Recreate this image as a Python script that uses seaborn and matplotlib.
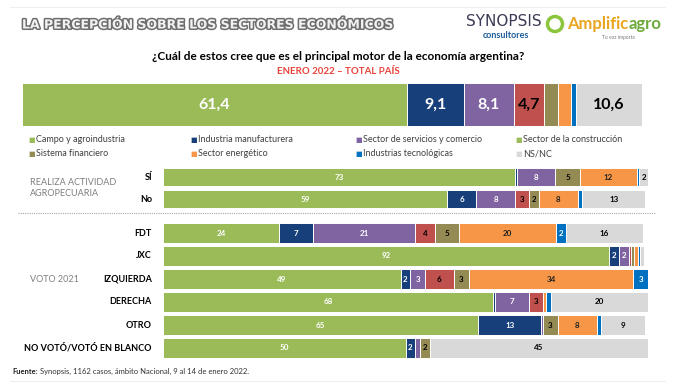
import matplotlib
matplotlib.use("Agg")
import matplotlib.pyplot as plt
import matplotlib.patheffects as pe
from matplotlib.patches import Ellipse
import numpy as np
import seaborn as sns

# Sector categories and colours
sectors = ["Campo y agroindustria", "Industria manufacturera",
           "Sector de servicios y comercio", "Sector de la construcción",
           "Sistema financiero", "Sector energético",
           "Industrias tecnológicas", "NS/NC"]
# legend swatches (construction shown in green in the legend)
legend_colors = ["#9BBB59", "#17407A", "#8064A2", "#9BBB59",
                 "#948A54", "#F79646", "#0070C0", "#D9D9D9"]
# segment colours in the bars
seg_colors = ["#9BBB59", "#17407A", "#8064A2", "#C0504D",
              "#948A54", "#F79646", "#0070C0", "#D9D9D9"]
label_colors = ["white", "white", "white", "black",
                "black", "#222222", "white", "black"]

# Total country
total_vals = [61.4, 9.1, 8.1, 4.7, 2.3, 2.0, 0.8, 10.6]
total_labels = ["61,4", "9,1", "8,1", "4,7", "", "", "", "10,6"]

# Realiza actividad agropecuaria
agro_rows = ["SÍ", "No"]
agro_campo = [73, 59]
agro_industria = [0.4, 6]
agro_servicios = [8, 8]
agro_construccion = [0, 3]
agro_financiero = [5, 2]
agro_energetico = [12, 8]
agro_tecno = [0.4, 1]
agro_nsnc = [2, 13]

# Voto 2021
vote_rows = ["FDT", "JXC", "IZQUIERDA", "DERECHA", "OTRO", "NO VOTÓ/VOTÓ EN BLANCO"]
vote_campo = [24, 92, 49, 68, 65, 50]
vote_industria = [7, 2, 2, 0.4, 13, 2]
vote_servicios = [21, 2, 3, 7, 0.4, 1]
vote_construccion = [4, 0.4, 6, 3, 0, 0]
vote_financiero = [5, 0.8, 3, 0, 3, 2]
vote_energetico = [20, 0.8, 34, 0.5, 8, 0]
vote_tecno = [2, 0.3, 3, 1, 1, 0]
vote_nsnc = [16, 0.8, 0, 20, 9, 45]

W, H = 675, 386
fig = plt.figure(figsize=(W / 100, H / 100), dpi=100)
sns.set_style("white")
plt.rcParams["font.family"] = ["Lato", "DejaVu Sans"]


def ax_at(left, top, right, bottom):
    return fig.add_axes([left / W, 1 - bottom / H, (right - left) / W, (bottom - top) / H])


def stacked(ax, rows, series, labels, width, fsize, min_label):
    data = np.array(series, dtype=float)  # (n_seg, n_rows)
    cum = np.cumsum(data, axis=0)
    # draw cumulative bars from the longest to the shortest
    for i in range(len(series) - 1, -1, -1):
        sns.barplot(x=cum[i], y=rows, color=seg_colors[i], orient="h", ax=ax,
                    width=width, edgecolor="white", linewidth=0.7, saturation=1)
    for i in range(len(series)):
        for j in range(len(rows)):
            v = data[i, j]
            txt = labels[i][j] if labels is not None else (f"{v:.0f}" if v >= min_label else "")
            if txt:
                ax.text(cum[i, j] - v / 2, j, txt, ha="center", va="center",
                        fontsize=fsize, fontweight="bold", color=label_colors[i])
    ax.set_axis_off()


# Top total bar
ax0 = ax_at(22, 83, 642, 126)
stacked(ax0, ["Total"], [[v] for v in total_vals], [[t] for t in total_labels], 1.0, 11.5, 99)
ax0.set_xlim(0, sum(total_vals))
ax0.set_ylim(0.5, -0.5)

# Agro group
ax1 = ax_at(163, 166, 648, 210)
stacked(ax1, agro_rows,
        [agro_campo, agro_industria, agro_servicios, agro_construccion,
         agro_financiero, agro_energetico, agro_tecno, agro_nsnc],
        None, 0.86, 5.8, 1.5)
ax1.set_xlim(0, 100.6)
ax1.set_ylim(1.5, -0.5)

# Vote group
ax2 = ax_at(163, 221.5, 648, 359.5)
stacked(ax2, vote_rows,
        [vote_campo, vote_industria, vote_servicios, vote_construccion,
         vote_financiero, vote_energetico, vote_tecno, vote_nsnc],
        None, 0.87, 5.8, 1.5)
ax2.set_xlim(0, 100)
ax2.set_ylim(5.5, -0.5)

# Row labels
for ax, rows in [(ax1, agro_rows), (ax2, vote_rows)]:
    for j, r in enumerate(rows):
        ax.text(-2.3, j, r, ha="right", va="center", fontsize=6.5,
                fontweight="bold", color="black", clip_on=False)


def fx(x):
    return x / W


def fy(y):
    return 1 - y / H


# Group labels
fig.text(fx(30), fy(188), "REALIZA ACTIVIDAD\nAGROPECUARIA", fontsize=6.5,
         color="#7F7F7F", va="center", linespacing=1.4)
fig.text(fx(30), fy(279), "VOTO 2021", fontsize=6.5, color="#7F7F7F", va="center")

# Dotted separator and faint frame lines
fig.add_artist(plt.Line2D([fx(18), fx(655)], [fy(213), fy(213)], color="#A6A6A6",
                          linestyle=(0, (1, 1)), linewidth=0.8))
fig.add_artist(plt.Line2D([fx(10), fx(665)], [fy(7), fy(7)], color="#EEEEEE", linewidth=0.8))
fig.add_artist(plt.Line2D([fx(10), fx(665)], [fy(381), fy(381)], color="#EEEEEE", linewidth=0.8))

# Legend
leg_x = [28, 190, 355, 515]
leg_y = [140, 154]
for k, name in enumerate(sectors):
    x = leg_x[k % 4]
    y = leg_y[k // 4]
    fig.text(fx(x), fy(y), "■", fontsize=5, color=legend_colors[k], va="center",
             family="DejaVu Sans")
    fig.text(fx(x + 8), fy(y), name, fontsize=6.5, color="#404040", va="center")

# Titles
fig.text(fx(22), fy(25), "LA PERCEPCIÓN SOBRE LOS SECTORES ECONÓMICOS", fontsize=9,
         fontweight="heavy", color="#F2F2F2", va="center", family="DejaVu Sans",
         path_effects=[pe.withStroke(linewidth=2.2, foreground="#6E6E6E")])
fig.text(fx(338), fy(56), "¿Cuál de estos cree que es el principal motor de la economía argentina?",
         fontsize=8.5, fontweight="bold", color="black", ha="center", va="center")
fig.text(fx(338), fy(71), "ENERO 2022 – TOTAL PAÍS", fontsize=7, fontweight="bold",
         color="#E8433B", ha="center", va="center")

# Logos (text approximations)
fig.text(fx(504), fy(21), "SYNOPSIS", fontsize=11, color="#3B3B55", ha="center",
         va="center", family="DejaVu Sans")
fig.text(fx(506), fy(36), "consultores", fontsize=6.5, fontweight="bold", color="#1F5C99",
         ha="center", va="center")
fig.add_artist(Ellipse((fx(555), fy(24)), 15 / W, 15 / H, facecolor="white",
                       edgecolor="#8CC63F", linewidth=2.5, transform=fig.transFigure))
t_amp = fig.text(fx(567), fy(24), "Amplific", fontsize=12, fontweight="bold",
                 color="#E9A520", va="center")
t_src = fig.text(fx(12), fy(371), "Fuente:", fontsize=5.5, fontweight="bold",
                 color="#222222", va="center")
fig.canvas.draw()
amp_end = t_amp.get_window_extent().x1 / W
src_end = t_src.get_window_extent().x1 / W
fig.text(amp_end + 0.5 / W, fy(24), "agro", fontsize=12, fontweight="bold",
         color="#6DAA3A", va="center")
fig.text(fx(618), fy(38), "Tu voz importa", fontsize=3.5, color="#777777", ha="center",
         va="center")

# Source
fig.text(src_end + 2.5 / W, fy(371),
         "Synopsis, 1162 casos, ámbito Nacional, 9 al 14 de enero 2022.",
         fontsize=5.5, color="#333333", va="center")

fig.savefig("out.png", dpi=100)
